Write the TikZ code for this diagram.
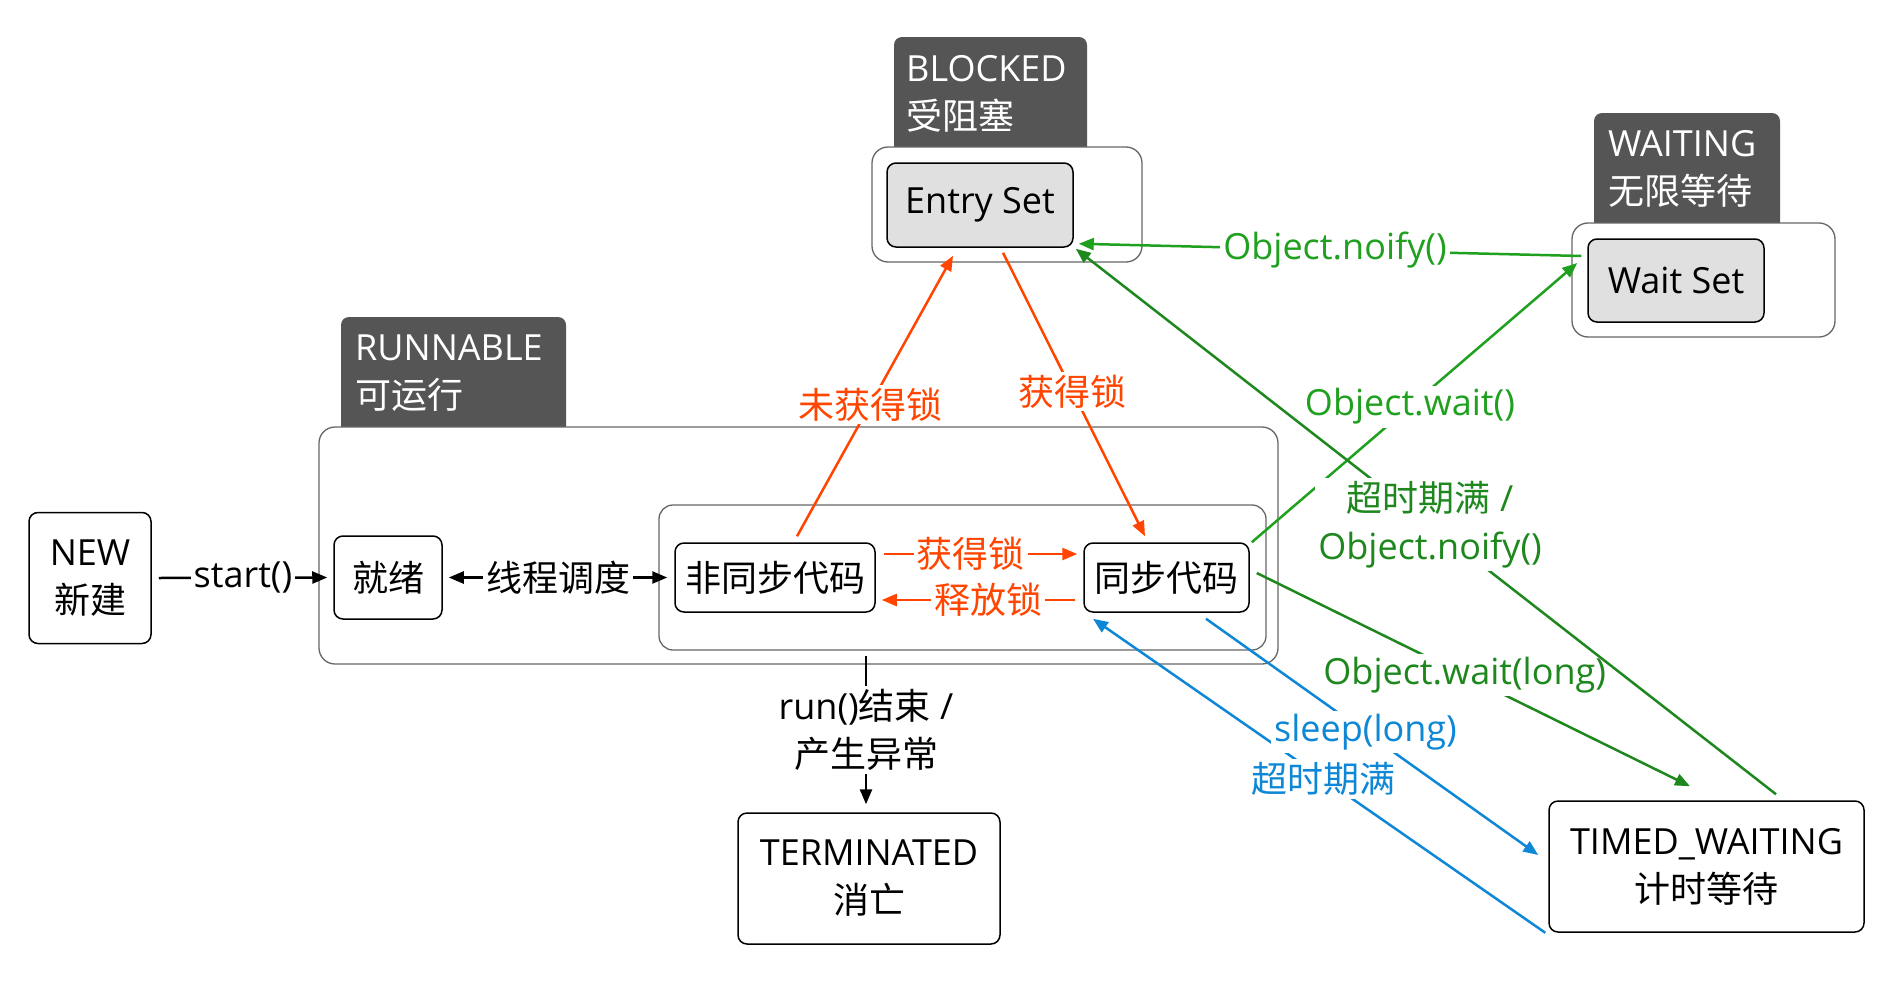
\documentclass[tikz,border=0pt]{standalone}
\usepackage{fontspec}
\setmainfont{Open Sans}
\newfontfamily\cjk{Noto Sans CJK SC}
\usetikzlibrary{arrows.meta,calc}
\definecolor{tabgray}{HTML}{555555}
\definecolor{setgray}{HTML}{E0E0E0}
\definecolor{boxgray}{HTML}{666666}
\definecolor{lockred}{HTML}{FF4500}
\definecolor{lgreen}{HTML}{1FA01F}
\definecolor{dgreen}{HTML}{1E881E}
\definecolor{tblue}{HTML}{0E88D6}
\newcommand\zh[1]{{\cjk #1}}
\begin{document}
\begin{tikzpicture}[x=1pt,y=-1pt,
 every node/.style={font=\fontsize{36}{48}\selectfont, inner sep=0pt},
 state/.style={draw=black, line width=1.5pt, rounded corners=9pt, align=center},
 setbox/.style={state, fill=setgray},
 container/.style={draw=boxgray, line width=1.3pt, rounded corners=16pt, fill=white},
 tabfill/.style={fill=tabgray, rounded corners=8pt},
 tabtext/.style={text=white, align=left, anchor=west},
 conn/.style={line width=2.5pt, -{Triangle[length=15pt,width=12pt]}},
 dconn/.style={line width=2.5pt, {Triangle[length=15pt,width=12pt]}-{Triangle[length=15pt,width=12pt]}},
 lbl/.style={fill=white, inner sep=3pt, align=center},
]
\useasboundingbox (0,0) rectangle (1884,985);
% tabs
\fill[tabfill] (894,37) rectangle (1087,160);
\fill[tabfill] (1594,113) rectangle (1780,236);
\fill[tabfill] (341,317) rectangle (566,440);
\fill[tabfill] (681,443) rectangle (782,518);
% containers
\node[container, minimum width=270pt, minimum height=115pt] (blocked) at (1007,204.5) {};
\node[container, minimum width=263pt, minimum height=114pt] (waiting) at (1703.5,280) {};
\node[container, minimum width=959pt, minimum height=237pt] (runnable) at (798.5,545.5) {};
\node[container, minimum width=607pt, minimum height=145pt, rounded corners=14pt] (running) at (962.5,577.5) {};
% tab texts
\node[tabtext] (blockedT) at (906,94) {BLOCKED\\\zh{受阻塞}};
\node[tabtext] (waitingT) at (1608,169) {WAITING\\\zh{无限等待}};
\node[tabtext] (runnableT) at (355,373) {RUNNABLE\\\zh{可运行}};
\node[tabtext] (runningT) at (693,477) {\zh{运行}};
% states
\node[state, minimum width=122pt, minimum height=131pt] (new) at (90,578) {NEW\\\zh{新建}};
\node[state, minimum width=108pt, minimum height=83pt] (ready) at (388,577.5) {\zh{就绪}};
\node[state, minimum width=200pt, minimum height=69pt] (nonsync) at (775,577.5) {\zh{非同步代码}};
\node[state, minimum width=165pt, minimum height=69pt] (sync) at (1166.5,577.5) {\zh{同步代码}};
\node[setbox, minimum width=186pt, minimum height=84pt] (entry) at (980,205) {\raisebox{-3pt}{Entry Set}};
\node[setbox, minimum width=176pt, minimum height=83pt] (waitset) at (1676,280.5) {\raisebox{-2pt}{Wait Set}};
\node[state, minimum width=262pt, minimum height=131pt] (term) at (869,878.5) {TERMINATED\\\zh{消亡}};
\node[state, minimum width=315pt, minimum height=131pt] (timed) at (1706.5,866.5) {TIMED\_WAITING\\\zh{计时等待}};
% black connectors
\draw[conn] ($(new.east)+(7,0)$) -- node[lbl]{start()} ($(ready.west)+(-6,0)$);
\draw[dconn] ($(ready.east)+(6,0)$) -- node[lbl]{\zh{线程调度}} ($(nonsync.west)+(-7,0)$);
\draw[conn] ($(runnable.south)+(67.5,-9)$) -- node[lbl]{run()\zh{结束} /\\\zh{产生异常}} ($(term.north)+(-3,-8)$);
% red connectors
\draw[conn, lockred] ($(nonsync.east)+(8,-23.5)$) -- node[lbl, text=lockred, pos=0.45]{\zh{获得锁}} ($(sync.west)+(-6,-23.5)$);
\draw[conn, lockred] ($(sync.west)+(-8,22.5)$) -- node[lbl, text=lockred, pos=0.45]{\zh{释放锁}} ($(nonsync.east)+(6,22.5)$);
\draw[conn, lockred] ($(nonsync.north)+(22,-6)$) -- node[lbl, text=lockred, pos=0.47]{\zh{未获得锁}} ($(entry.south)+(-27,8)$);
\draw[conn, lockred] ($(entry.south)+(23,5)$) -- node[lbl, text=lockred, pos=0.49]{\zh{获得锁}} ($(sync.north)+(-21.5,-6)$);
% green connectors
\draw[conn, lgreen] ($(waitset.west)+(-6,-24.5)$) -- node[lbl, text=lgreen, pos=0.49]{Object.noify()} ($(entry.south east)+(5,-4)$);
\draw[conn, lgreen] ($(sync.north east)+(2,0)$) -- node[lbl, text=lgreen, pos=0.486]{Object.wait()} ($(waitset.west)+(-10,-17.5)$);
\draw[conn, dgreen] ($(sync.east)+(7,-4.5)$) -- node[lbl, text=dgreen, pos=0.48]{Object.wait(long)} ($(timed.north)+(-16.5,-14)$);
\draw[conn, dgreen] ($(timed.north)+(69.5,-6)$) -- node[lbl, text=dgreen, pos=0.494]{\zh{超时期满} /\\Object.noify()} ($(entry.south east)+(2,1)$);
% blue connectors
\draw[conn, tblue] ($(timed.south west)+(-3,0)$) -- node[lbl, text=tblue, pos=0.49]{\zh{超时期满}} ($(sync.south)+(-73.5,6)$);
\draw[conn, tblue] ($(sync.south)+(39.5,6)$) -- node[lbl, text=tblue, pos=0.48]{sleep(long)} ($(timed.west)+(-10,-11.5)$);
\end{tikzpicture}
\end{document}
